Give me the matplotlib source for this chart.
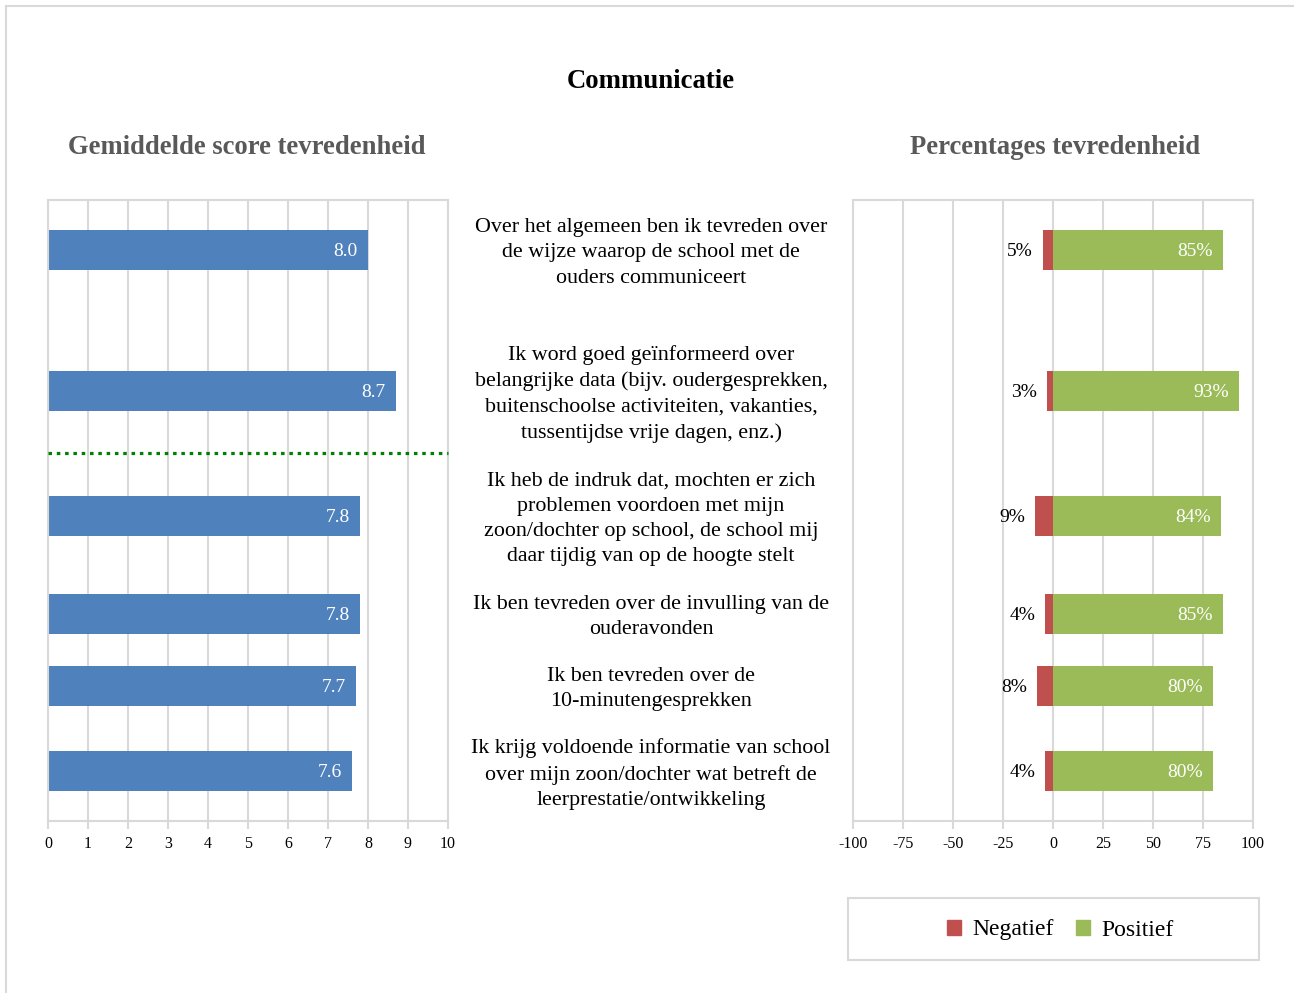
import matplotlib
matplotlib.use("Agg")
import matplotlib.pyplot as plt
from matplotlib.patches import Rectangle, Patch
from matplotlib.lines import Line2D

plt.rcParams["font.family"] = ["Liberation Serif", "DejaVu Serif"]
plt.rcParams["axes.unicode_minus"] = False

# ---- data ----
vragen = [
    "Over het algemeen ben ik tevreden over\nde wijze waarop de school met de\nouders communiceert",
    "Ik word goed geïnformeerd over\nbelangrijke data (bijv. oudergesprekken,\nbuitenschoolse activiteiten, vakanties,\ntussentijdse vrije dagen, enz.)",
    "Ik heb de indruk dat, mochten er zich\nproblemen voordoen met mijn\nzoon/dochter op school, de school mij\ndaar tijdig van op de hoogte stelt",
    "Ik ben tevreden over de invulling van de\nouderavonden",
    "Ik ben tevreden over de\n10-minutengesprekken",
    "Ik krijg voldoende informatie van school\nover mijn zoon/dochter wat betreft de\nleerprestatie/ontwikkeling",
]
score = [8.0, 8.7, 7.8, 7.8, 7.7, 7.6]
negatief = [5, 3, 9, 4, 8, 4]
positief = [85, 93, 84, 85, 80, 80]

# ---- layout (pixel rows of the original sheet) ----
W, H = 1294, 993
rij_y = [250, 391, 516, 614, 686, 771]
scheiding_y = 453
ax_top, ax_bot = 200, 821

BLAUW = "#4f81bd"
ROOD = "#c0504d"
GROEN = "#9bbb59"
GRID = "#d9d9d9"
GRIJS = "#595959"


def fx(px):
    return px / W


def fy(py):
    return 1 - py / H


fig = plt.figure(figsize=(W / 100, H / 100), dpi=100)

# page border
fig.add_artist(Line2D([fx(6), 1], [fy(6), fy(6)], color=GRID, lw=1.5))
fig.add_artist(Line2D([fx(6), fx(6)], [fy(6), 0], color=GRID, lw=1.5))

fig.text(fx(651), fy(81), "Communicatie", ha="center", va="center",
         fontsize=19.3, fontweight="bold", color="black")
fig.text(fx(247), fy(147), "Gemiddelde score tevredenheid", ha="center", va="center",
         fontsize=19.2, fontweight="bold", color=GRIJS)
fig.text(fx(1055), fy(147), "Percentages tevredenheid", ha="center", va="center",
         fontsize=19.2, fontweight="bold", color=GRIJS)


def stijl(ax):
    for s in ax.spines.values():
        s.set_color(GRID)
        s.set_linewidth(1.5)
    ax.set_ylim(ax_bot, ax_top)
    ax.set_yticks([])
    ax.grid(axis="x", color=GRID, lw=1.5)
    ax.set_axisbelow(True)
    ax.tick_params(axis="x", length=6, width=1.5, color=GRID, labelsize=11.5, pad=5)


# ---- left: mean score ----
ax1 = fig.add_axes([fx(48), fy(ax_bot), fx(448) - fx(48), fy(ax_top) - fy(ax_bot)])
stijl(ax1)
ax1.barh(rij_y, score, height=40, color=BLAUW, zorder=2)
for y, v in zip(rij_y, score):
    ax1.text(v - 0.25, y, f"{v:.1f}", ha="right", va="center_baseline", color="white",
             fontsize=14, zorder=3)
ax1.axhline(scheiding_y, color="#008000", lw=2.3, ls=(0, (1.1, 1.5)), zorder=3, clip_on=False)
ax1.set_xlim(0, 10)
ax1.set_xticks(range(0, 11))

# ---- centre: questions ----
for y, t in zip(rij_y, vragen):
    fig.text(fx(651), fy(y + 3), t, ha="center", va="center", fontsize=15.8, linespacing=1.45)

# ---- right: percentages ----
ax2 = fig.add_axes([fx(853), fy(ax_bot), fx(1253) - fx(853), fy(ax_top) - fy(ax_bot)])
stijl(ax2)
ax2.barh(rij_y, [-n for n in negatief], height=40, color=ROOD, zorder=2)
ax2.barh(rij_y, positief, height=40, color=GROEN, zorder=2)
for y, n, p in zip(rij_y, negatief, positief):
    ax2.text(-n - 5, y, f"{n}%", ha="right", va="center_baseline", color="black", fontsize=14)
    ax2.text(p - 5, y, f"{p}%", ha="right", va="center_baseline", color="white",
             fontsize=14, zorder=3)
ax2.set_xlim(-100, 100)
ax2.set_xticks([-100, -75, -50, -25, 0, 25, 50, 75, 100])

# ---- legend ----
fig.add_artist(Rectangle((fx(848), fy(960)), fx(1259) - fx(848), fy(898) - fy(960),
                         transform=fig.transFigure, fill=False, edgecolor=GRID, lw=1.5))
fig.legend(handles=[Patch(color=ROOD, label="Negatief"), Patch(color=GROEN, label="Positief")],
           loc="center", bbox_to_anchor=(fx(1060), fy(930)), ncol=2, frameon=False,
           fontsize=17, handlelength=0.62, handleheight=0.62, handletextpad=0.45,
           columnspacing=0.95)

fig.savefig("out.png", dpi=100, facecolor="white")
